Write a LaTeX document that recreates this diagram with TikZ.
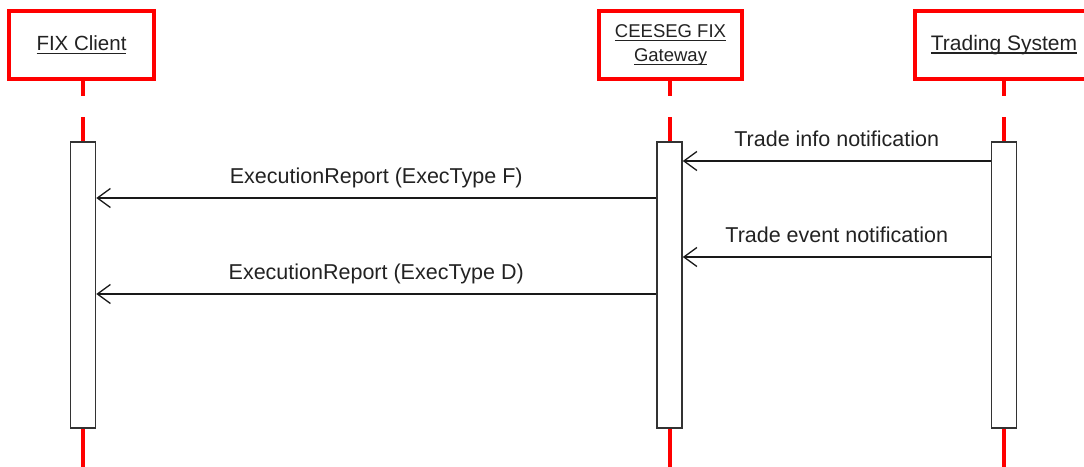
\documentclass[tikz,border=0pt]{standalone}
\usepackage{fontspec}
\setmainfont{Liberation Sans}
\usetikzlibrary{arrows.meta}
\definecolor{lred}{RGB}{255,0,0}
\definecolor{txt}{RGB}{34,34,34}
\newcommand\myul[1]{\setbox0\hbox{#1}\rlap{\vrule width\wd0 height -2pt depth 3.4pt}\box0}
\begin{document}
\begin{tikzpicture}[x=1pt,y=-1pt,
  actor/.style={draw=lred,line width=4pt,fill=white,minimum height=68pt,inner sep=0pt,text=txt},
  act/.style={draw=black!80,line width=1.6pt,fill=white,minimum width=25pt,minimum height=286pt,inner sep=0pt},
  life/.style={draw=lred,line width=4pt},
  msg/.style={draw=black!90,line width=1.3pt,-{Straight Barb[length=13pt,width=19pt,line width=1.3pt]}},
  lbl/.style={font=\fontsize{21.5}{24}\selectfont,text=txt,anchor=base,yshift=15pt}]
\useasboundingbox (0,0) rectangle (1084,466);
% actors
\node[actor,minimum width=145pt,font=\fontsize{20.5}{24}\selectfont] (fc) at (81.5,45) {\myul{FIX Client}};
\node[actor,minimum width=143pt,align=center,font=\fontsize{18.5}{24}\selectfont] (gw) at (670.5,45) {\myul{CEESEG FIX}\\\myul{Gateway}};
\node[actor,minimum width=178pt,font=\fontsize{21}{24}\selectfont] (ts) at (1004,45) {\myul{Trading System}};
% activations
\node[act] (fca) at (83,285) {};
\node[act] (gwa) at (669.5,285) {};
\node[act] (tsa) at (1004,285) {};
% lifelines
\foreach \a/\b in {fc/fca,gw/gwa,ts/tsa}{
  \draw[life] (\b.north |- \a.south) -- (\b.north |- 0,96);
  \draw[life] (\b.north |- 0,117) -- (\b.north);
  \draw[life] (\b.south) -- (\b.south |- 0,470);
}
% messages
\draw[msg] (tsa.west |- 0,161) -- node[lbl]{Trade info notification} (gwa.east |- 0,161);
\draw[msg] (gwa.west |- 0,198) -- node[lbl]{ExecutionReport (ExecType F)} (fca.east |- 0,198);
\draw[msg] (tsa.west |- 0,257) -- node[lbl]{Trade event notification} (gwa.east |- 0,257);
\draw[msg] (gwa.west |- 0,294) -- node[lbl]{ExecutionReport (ExecType D)} (fca.east |- 0,294);
\end{tikzpicture}
\end{document}
